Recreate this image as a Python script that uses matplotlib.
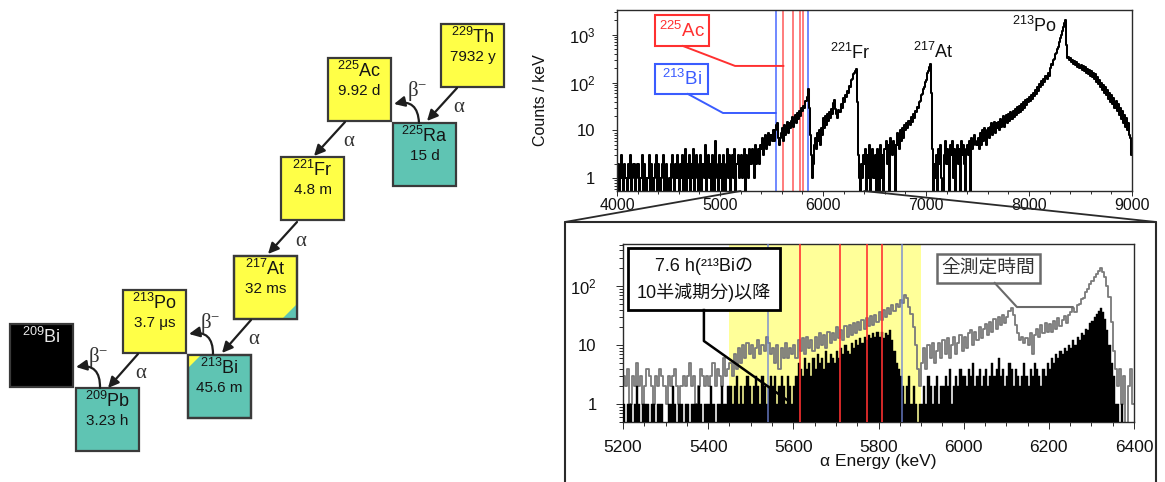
import numpy as np
import matplotlib
matplotlib.use("Agg")
import matplotlib.pyplot as plt
from matplotlib.patches import Rectangle, Polygon, FancyArrowPatch, ConnectionPatch
from matplotlib.lines import Line2D
from matplotlib.transforms import blended_transform_factory
from matplotlib.ticker import MultipleLocator, LogLocator, NullFormatter

plt.rcParams["font.family"] = ["Liberation Sans", "Noto Sans CJK JP"]
plt.rcParams["mathtext.fontset"] = "custom"
plt.rcParams["mathtext.rm"] = "Liberation Sans"
plt.rcParams["mathtext.it"] = "Liberation Sans:italic"
plt.rcParams["mathtext.bf"] = "Liberation Sans:bold"

# ---------------- decay chain of 229Th ----------------
chain_mass = ["229", "225", "225", "221", "217", "213", "213", "209", "209"]
chain_symbol = ["Th", "Ac", "Ra", "Fr", "At", "Po", "Bi", "Bi", "Pb"]
chain_halflife = ["7932 y", "9.92 d", "15 d", "4.8 m", "32 ms", "3.7 μs", "45.6 m", "", "3.23 h"]
chain_mode = ["alpha", "alpha", "beta", "alpha", "alpha", "alpha", "beta", "stable", "beta"]
# minor branch drawn as a corner wedge: (index, corner, colour mode)
chain_branch = [(4, "br", "beta"), (6, "tl", "alpha")]

# ---------------- alpha spectrum, counts / keV ----------------
spec_bin = 10
spec_start = 4000
spec_4000_5400 = [
    1, 2, 0, 1, 3, 1, 0, 2, 1, 1,
    0, 2, 1, 3, 0, 1, 2, 0, 1, 2,
    2, 0, 1, 1, 3, 0, 2, 1, 0, 1,
    1, 3, 0, 2, 1, 0, 1, 2, 3, 0,
    2, 1, 0, 1, 2, 3, 0, 1, 2, 0,
    1, 0, 2, 3, 1, 0, 2, 1, 3, 1,
    0, 2, 1, 3, 0, 1, 4, 0, 2, 1,
    3, 0, 2, 1, 4, 0, 1, 3, 2, 0,
    1, 3, 0, 2, 1, 5, 0, 2, 3, 1,
    2, 0, 3, 1, 0, 6, 2, 1, 0, 3,
    1, 2, 0, 3, 1, 0, 2, 4, 1, 3,
    0, 2, 3, 1, 4, 0, 2, 3, 1, 2,
    3, 1, 2, 4, 0, 3, 2, 1, 4, 2,
    2, 4, 3, 1, 5, 2, 3, 4, 2, 5,
]
spec_5400_6400 = [
    4, 7, 3, 6, 8, 4, 7, 9, 5, 8,
    6, 10, 6, 10, 13, 14, 7, 5, 7, 9,
    11, 6, 13, 8, 12, 15, 9, 14, 11, 16,
    19, 12, 17, 21, 14, 23, 17, 26, 20, 29,
    25, 33, 30, 42, 50, 75, 30, 8, 3, 1,
    2, 5, 7, 4, 9, 6, 10, 5, 11, 8,
    18, 11, 20, 13, 22, 16, 24, 18, 28, 22,
    38, 44, 28, 22, 18, 27, 24, 35, 30, 47,
    40, 56, 50, 68, 62, 85, 80, 115, 120, 150,
    160, 178, 195, 40, 3, 1, 0, 2, 1, 3,
]
spec_6400_7500 = [
    2, 4, 0, 3, 1, 5, 0, 2, 4, 1,
    3, 0, 4, 2, 0, 5, 1, 3, 0, 4,
    4, 6, 2, 5, 0, 7, 4, 3, 6, 5,
    0, 5, 9, 5, 4, 10, 6, 11, 7, 13,
    10, 14, 11, 16, 13, 19, 15, 22, 18, 26,
    24, 31, 30, 40, 42, 55, 58, 75, 80, 105,
    115, 155, 175, 215, 240, 60, 4, 0, 2, 1,
    3, 0, 4, 2, 5, 1, 0, 3, 6, 2,
    4, 2, 0, 5, 3, 6, 1, 4, 0, 3,
    5, 2, 4, 0, 6, 3, 5, 2, 0, 4,
    5, 3, 6, 0, 7, 4, 5, 8, 6, 5,
]
spec_7500_9000 = [
    7, 4, 9, 5, 10, 6, 11, 7, 5, 10,
    11, 7, 12, 14, 8, 13, 15, 9, 14, 11,
    15, 10, 17, 12, 16, 20, 12, 18, 21, 14,
    22, 16, 24, 17, 26, 19, 28, 21, 31, 23,
    33, 24, 36, 27, 39, 30, 44, 34, 46, 40,
    50, 41, 55, 46, 62, 52, 70, 58, 80, 66,
    95, 80, 108, 90, 120, 102, 138, 118, 158, 140,
    200, 240, 230, 300, 310, 390, 420, 500, 560, 700,
    850, 1000, 1200, 1450, 1750, 2050, 600, 330, 350, 300,
    320, 270, 300, 245, 285, 232, 270, 215, 250, 200,
    235, 185, 220, 172, 208, 160, 195, 150, 182, 140,
    175, 130, 162, 118, 148, 104, 132, 92, 116, 80,
    100, 70, 90, 62, 80, 54, 70, 46, 62, 40,
    54, 35, 47, 30, 41, 25, 35, 21, 29, 17,
    25, 14, 21, 12, 18, 10, 14, 8, 7, 3,
]
peak_labels = [("221", "Fr", 6262, 0.762), ("217", "At", 7068, 0.768), ("213", "Po", 8058, 0.912)]

# alpha line energies (keV)
ac225_lines = [5615, 5710, 5772, 5808]
bi213_lines = [5540, 5855]

# ---------------- zoomed spectrum 5200-6400 keV ----------------
zoom_range = (5200, 6400)
zoom_bin = 5
band_range = (5450, 5900)
counts_all_time = [
    3, 2, 4, 1, 3, 2, 5, 2, 3, 1,
    2, 4, 3, 2, 1, 3, 2, 4, 3, 2,
    1, 3, 2, 3, 4, 2, 1, 2, 3, 2,
    3, 5, 2, 3, 1, 2, 4, 3, 2, 3,
    2, 3, 5, 2, 4, 3, 2, 6, 3, 4,
    5, 3, 7, 4, 9, 5, 10, 6, 11, 7,
    10, 6, 9, 12, 7, 10, 8, 14, 11, 7,
    9, 5, 10, 4, 9, 6, 11, 6, 9, 7,
    10, 6, 12, 8, 13, 7, 14, 9, 12, 8,
    14, 9, 16, 10, 15, 9, 17, 11, 16, 12,
    20, 13, 18, 12, 21, 14, 22, 15, 24, 16,
    25, 18, 27, 19, 29, 21, 31, 22, 33, 25,
    36, 27, 39, 30, 43, 34, 47, 38, 50, 44,
    58, 52, 70, 62, 45, 34, 20, 10, 4, 2,
    5, 9, 4, 10, 6, 11, 5, 8, 11, 6,
    12, 7, 13, 6, 10, 14, 7, 11, 15, 8,
    14, 9, 16, 18, 10, 17, 12, 20, 13, 19,
    23, 15, 25, 17, 28, 19, 30, 22, 33, 24,
    30, 38, 42, 32, 22, 16, 12, 14, 11, 13,
    10, 16, 7, 15, 19, 14, 22, 16, 24, 17,
    23, 17, 26, 19, 29, 21, 27, 31, 24, 33,
    36, 42, 37, 48, 50, 60, 64, 80, 88, 108,
    120, 140, 160, 182, 200, 175, 140, 100, 65, 25,
    8, 4, 2, 4, 1, 3, 0, 2, 4, 1,
]
counts_after_7p6h = [
    1, 0, 1, 1, 0, 1, 2, 1, 0, 1,
    1, 1, 0, 1, 1, 0, 1, 1, 1, 0,
    0, 1, 1, 2, 1, 0, 1, 1, 0, 1,
    1, 0, 1, 1, 1, 2, 1, 0, 1, 1,
    1, 2, 1, 0, 1, 1, 2, 1, 1, 2,
    2, 1, 2, 3, 1, 2, 1, 2, 3, 2,
    1, 2, 3, 2, 1, 3, 2, 1, 2, 3,
    2, 3, 1, 2, 3, 2, 1, 3, 2, 1,
    2, 3, 5, 4, 3, 6, 4, 5, 3, 6,
    4, 7, 5, 6, 4, 8, 5, 7, 6, 5,
    8, 6, 9, 7, 10, 8, 7, 11, 9, 12,
    10, 13, 11, 14, 12, 15, 13, 16, 14, 17,
    14, 17, 13, 16, 15, 18, 12, 8, 5, 4,
    3, 2, 1, 2, 3, 1, 2, 1, 0, 1,
    1, 2, 1, 3, 2, 1, 2, 3, 1, 2,
    2, 3, 2, 4, 1, 2, 3, 2, 4, 3,
    3, 2, 4, 3, 5, 2, 3, 4, 2, 3,
    4, 2, 3, 5, 3, 4, 6, 3, 4, 2,
    3, 5, 4, 2, 4, 3, 2, 3, 5, 3,
    2, 4, 3, 5, 4, 3, 2, 4, 3, 5,
    4, 6, 5, 7, 6, 8, 7, 9, 8, 10,
    9, 12, 10, 14, 12, 16, 15, 19, 18, 24,
    26, 30, 34, 38, 42, 36, 28, 18, 10, 5,
    3, 1, 1, 0, 1, 0, 0, 0, 0, 0,
]

YELLOW = "#ffff47"
TEAL = "#5fc4b3"
RED = "#ff3030"
BLUE = "#3a5cff"

W, H = 1165, 482
fig = plt.figure(figsize=(W / 100, H / 100), dpi=100)
fig.patch.set_facecolor("white")


def px_axes(left, top, right, bottom, **kw):
    return fig.add_axes([left / W, 1 - bottom / H, (right - left) / W, (bottom - top) / H], **kw)


ax_top = px_axes(617, 10, 1132, 191)
ax_bot = px_axes(623, 244, 1134, 422)
ov = fig.add_axes([0, 0, 1, 1], zorder=10)
ov.set_xlim(0, W)
ov.set_ylim(H, 0)
ov.axis("off")


def frame_style(ax, major_len, minor_len, xpad, ypad, xsize, ysize):
    for s in ax.spines.values():
        s.set_linewidth(1.0)
        s.set_color("#2a2a2a")
    ax.tick_params(which="both", direction="out", color="#2a2a2a", width=0.7)
    ax.tick_params(which="major", length=major_len)
    ax.tick_params(which="minor", length=minor_len)
    ax.tick_params(axis="x", which="major", pad=xpad, labelsize=xsize, labelcolor="#111")
    ax.tick_params(axis="y", which="major", pad=ypad, labelsize=ysize, labelcolor="#111")
    ax.yaxis.set_minor_locator(LogLocator(base=10, subs=np.arange(2, 10) * 1.0, numticks=20))
    ax.yaxis.set_minor_formatter(NullFormatter())


# ---------------- top: full spectrum ----------------
spec = np.array(spec_4000_5400 + spec_5400_6400 + spec_6400_7500 + spec_7500_9000, dtype=float)
spec_edges = spec_start + spec_bin * np.arange(len(spec) + 1)
ax_top.set_yscale("log")
for e in ac225_lines:
    ax_top.axvline(e, color=RED, lw=1.1, alpha=0.8, zorder=1)
for e in bi213_lines:
    ax_top.axvline(e, color=BLUE, lw=1.2, alpha=0.85, zorder=1)
ax_top.step(spec_edges, np.append(spec, spec[-1]), where="post", color="black", lw=1.45, zorder=2)
ax_top.set_xlim(spec_edges[0], spec_edges[-1])
ax_top.set_ylim(0.54, 3300)
ax_top.set_xticks(np.arange(4000, 9001, 1000))
ax_top.xaxis.set_minor_locator(MultipleLocator(200))
ax_top.set_yticks([1, 10, 100, 1000], ["1", "10", r"$\mathregular{10^{2}}$", r"$\mathregular{10^{3}}$"])
frame_style(ax_top, 3.6, 2.0, 1.5, 12, 11.5, 12)
ax_top.set_ylabel("Counts / keV", fontsize=11.5, color="#111")
ax_top.yaxis.set_label_coords((548 - 617) / 515, 0.5)

bt = blended_transform_factory(ax_top.transData, ax_top.transAxes)
for (x0, x1, y0, y1, col, mass, sym, ty, lead_x, lead_y, line_e) in [
    (4369, 4893, 0.801, 0.972, RED, "225", "Ac", 0.884, (4641, 5146), (0.801, 0.691), ac225_lines[0]),
    (4369, 4883, 0.536, 0.702, BLUE, "213", "Bi", 0.619, (4689, 5029), (0.536, 0.431), bi213_lines[0]),
]:
    ax_top.add_patch(Rectangle((x0, y0), x1 - x0, y1 - y0, transform=bt, fc="white",
                               ec=col, lw=1.5, zorder=5))
    ax_top.text((x0 + x1) / 2, ty, rf"$\mathregular{{^{{{mass}}}}}${sym}", transform=bt,
                ha="center", va="center", fontsize=13.5, color=col, zorder=6)
    ax_top.add_line(Line2D([lead_x[0], lead_x[1], line_e], [lead_y[0], lead_y[1], lead_y[1]],
                           transform=bt, color=col, lw=1.4, zorder=5))

for mass, sym, e, fy in peak_labels:
    ax_top.text(e, fy, rf"$\mathregular{{^{{{mass}}}}}${sym}", transform=bt, ha="center",
                va="center", fontsize=13, color="#111", zorder=6)

# ---------------- bottom: zoomed spectrum ----------------
all_time = np.array(counts_all_time, dtype=float)
after = np.array(counts_after_7p6h, dtype=float)
z_edges = zoom_range[0] + zoom_bin * np.arange(len(all_time) + 1)
ax_bot.set_yscale("log")
ax_bot.axvspan(*band_range, color="#ffff99", lw=0, zorder=0)
ax_bot.step(z_edges, np.append(all_time, all_time[-1]), where="post", color="#7a7a7a", lw=1.3, zorder=2)
ax_bot.bar(z_edges[:-1], after, width=zoom_bin, align="edge", color="black", ec="black", lw=0.3, zorder=3)
for e in ac225_lines:
    ax_bot.axvline(e, color=RED, lw=1.3, alpha=0.9, zorder=4)
for e in bi213_lines:
    ax_bot.axvline(e, color="#6f84d6", lw=1.3, alpha=0.75, zorder=4)
ax_bot.set_xlim(*zoom_range)
ax_bot.set_ylim(0.5, 515)
ax_bot.set_xticks(np.arange(5200, 6401, 200))
ax_bot.xaxis.set_minor_locator(MultipleLocator(50))
ax_bot.set_yticks([1, 10, 100], ["1", "10", r"$\mathregular{10^{2}}$"])
frame_style(ax_bot, 5.0, 2.8, 8, 14, 12.5, 12)
ax_bot.set_xlabel("α Energy (keV)", fontsize=12.5, color="#111")
ax_bot.xaxis.set_label_coords(0.5, (422 - 454) / 178)

bb = blended_transform_factory(ax_bot.transData, ax_bot.transAxes)
ax_bot.add_patch(Rectangle((5212, 0.629), 356, 0.349, transform=bb, fc="white", ec="black",
                           lw=2.0, zorder=6, clip_on=False))
ax_bot.text(5390, 0.800, "7.6 h(²¹³Biの\n10半減期分)以降", transform=bb, ha="center", va="center",
            multialignment="center", fontsize=13, linespacing=1.55, color="#111", zorder=7)
ax_bot.add_line(Line2D([5390, 5390, 5585], [0.629, 0.455, 0.124], transform=bb, color="black",
                       lw=1.8, zorder=6))
ax_bot.add_patch(Rectangle((5937, 0.781), 242, 0.163, transform=bb, fc="white", ec="#6a6a6a",
                           lw=1.8, zorder=6))
ax_bot.text(6058, 0.862, "全測定時間", transform=bb, ha="center", va="center", fontsize=13.5,
            color="#333", zorder=7)
ax_bot.add_line(Line2D([6073, 6125, 6256], [0.781, 0.646, 0.646], transform=bb, color="#6a6a6a",
                       lw=1.5, zorder=6))

# frame around the zoomed panel and the lines joining it to the full spectrum
ov.add_line(Line2D([565, 565, 1156, 1156], [490, 222, 222, 490], color="#2a2a2a", lw=1.5))
y_low = ax_top.get_ylim()[0]
for e_edge, corner in ((zoom_range[0], (565, 222)), (zoom_range[1], (1156, 222))):
    ov.add_artist(ConnectionPatch(xyA=(e_edge, y_low), coordsA=ax_top.transData, xyB=corner,
                                  coordsB=ov.transData, color="#2a2a2a", lw=1.3))

# ---------------- decay chain diagram ----------------
box = 63
box_xy = [(441, 24), (328, 58), (393, 123), (281, 157), (234, 256), (123, 290), (188, 355),
          (10, 324), (76, 388)]
mode_colour = {"alpha": YELLOW, "beta": TEAL, "stable": "black"}
for mass, sym, half, mode, (x0, y0) in zip(chain_mass, chain_symbol, chain_halflife, chain_mode, box_xy):
    ov.add_patch(Rectangle((x0, y0), box, box, fc=mode_colour[mode], ec="#3a3a3a", lw=1.6, zorder=2))
    tc = "#e8e8e8" if mode == "stable" else "#151515"
    ov.text(x0 + box / 2, y0 + 13, rf"$\mathregular{{^{{{mass}}}}}${sym}", ha="center", va="center",
            fontsize=13, color=tc, zorder=4)
    if half:
        ov.text(x0 + box / 2, y0 + 33, half, ha="center", va="center", fontsize=11, color=tc, zorder=4)

for idx, corner, mode in chain_branch:
    x0, y0 = box_xy[idx]
    leg = 15 if corner == "br" else 13
    if corner == "br":
        pts = [(x0 + box, y0 + box - leg), (x0 + box, y0 + box), (x0 + box - leg, y0 + box)]
    else:
        pts = [(x0, y0), (x0 + leg, y0), (x0, y0 + leg)]
    ov.add_patch(Polygon(pts, closed=True, fc=mode_colour[mode], ec="none", zorder=3))
    ov.add_patch(Rectangle((x0, y0), box, box, fc="none", ec="#3a3a3a", lw=1.6, zorder=3))

# decay arrows: start, end, curvature, label, label position
decays = [
    ((457, 88), (427, 121), 0.0, "α", (459, 107)),
    ((419, 123), (394, 104), 0.6, "β", (417, 91)),
    ((345, 122), (314, 156), 0.0, "α", (349, 141)),
    ((297, 222), (268, 254), 0.0, "α", (301, 241)),
    ((251, 320), (222, 353), 0.0, "α", (254, 339)),
    ((213, 354), (189, 334), 0.6, "β", (210, 323)),
    ((138, 354), (108, 388), 0.0, "α", (141, 373)),
    ((100, 388), (76, 367), 0.6, "β", (98, 357)),
]
for p0, p1, rad, kind, lab in decays:
    ov.add_patch(FancyArrowPatch(p0, p1, arrowstyle="-|>,head_length=0.45,head_width=0.22",
                                 mutation_scale=14, lw=1.6, color="#1e1e1e",
                                 connectionstyle=f"arc3,rad={rad}", shrinkA=0, shrinkB=0, zorder=5))
    text = "α" if kind == "α" else r"β$\mathregular{^{-}}$"
    ov.text(*lab, text, ha="center", va="center", fontsize=15, color="#333",
            family="Liberation Serif", zorder=5)

fig.savefig("out.png", dpi=100, facecolor="white")
